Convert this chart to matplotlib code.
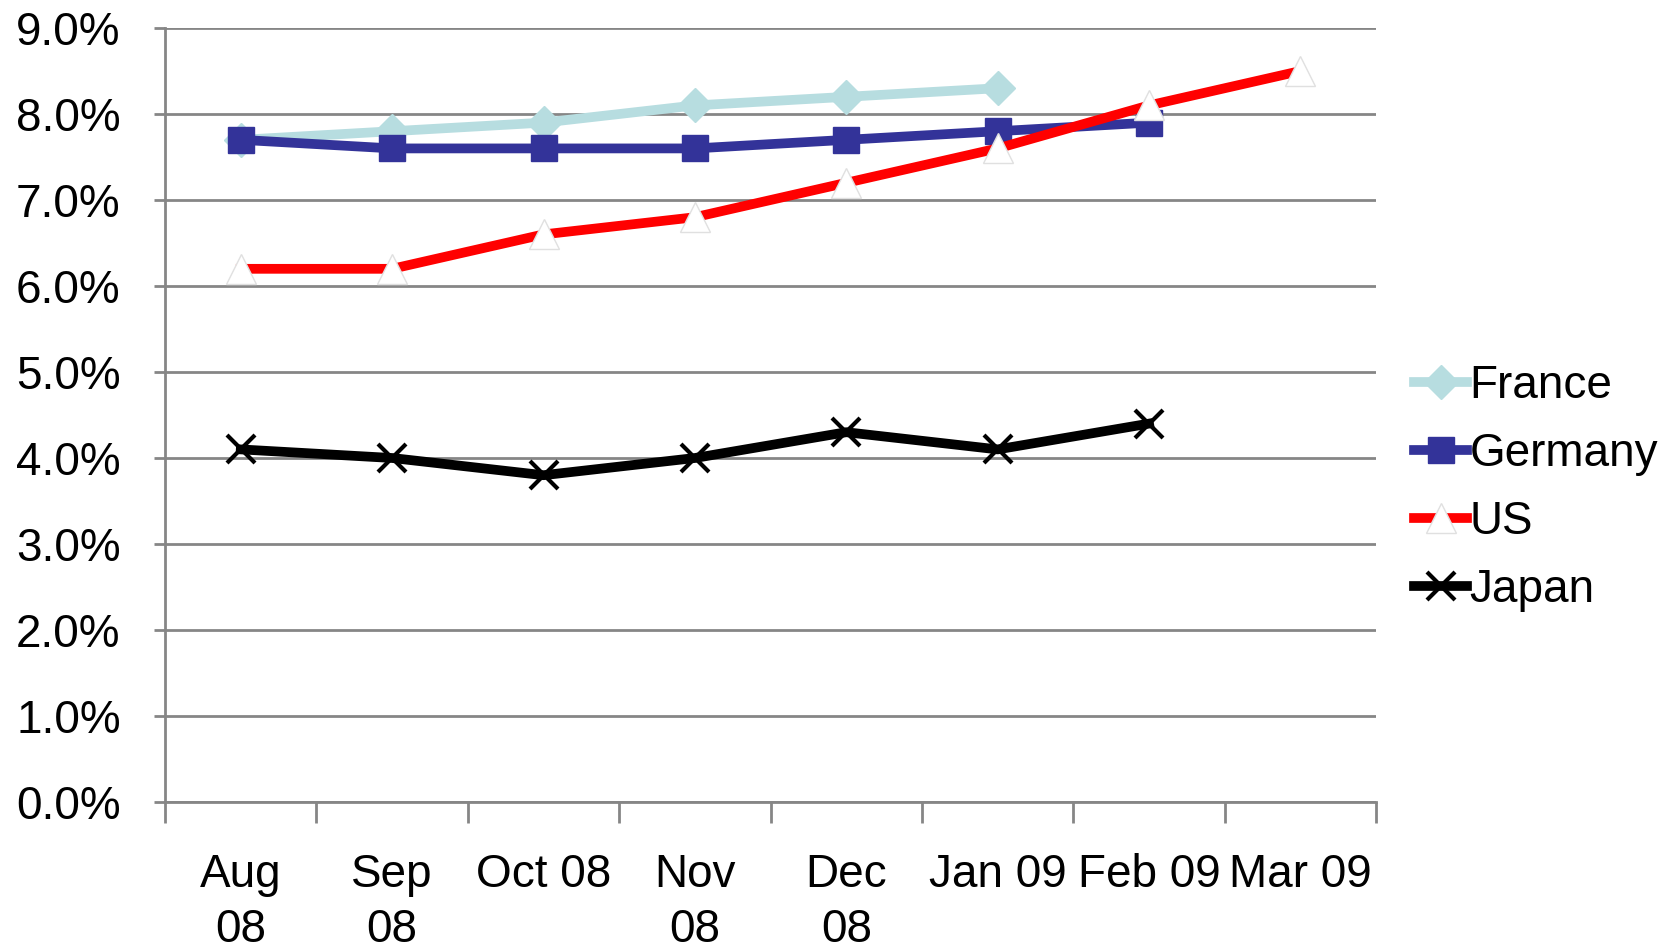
import numpy as np
import matplotlib
matplotlib.use('Agg')
import matplotlib.pyplot as plt

plt.rcParams['font.family'] = ['Liberation Sans', 'DejaVu Sans']

# ── Data ───────────────────────────────────────────────────
months = ['Aug\n08', 'Sep\n08', 'Oct 08', 'Nov\n08', 'Dec\n08',
          'Jan 09', 'Feb 09', 'Mar 09']
france  = [7.7, 7.8, 7.9, 8.1, 8.2, 8.3]
germany = [7.7, 7.6, 7.6, 7.6, 7.7, 7.8, 7.9]
us      = [6.2, 6.2, 6.6, 6.8, 7.2, 7.6, 8.1, 8.5]
japan   = [4.1, 4.0, 3.8, 4.0, 4.3, 4.1, 4.4]
y_ticks = np.arange(0, 10, 1)

# ── Plot ───────────────────────────────────────────────────
fig = plt.figure(figsize=(16.81, 9.5), dpi=100)
ax = fig.add_axes([0.0982, 0.1558, 0.7204, 0.8147])

x = np.arange(len(months))
ax.plot(x[:len(france)], france, color='#b7dde0', lw=7, marker='D', ms=17,
        mec='#b7dde0', label='France', zorder=3)
ax.plot(x[:len(germany)], germany, color='#333399', lw=7, marker='s', ms=19,
        mec='#333399', label='Germany', zorder=4)
ax.plot(x, us, color='#ff0000', lw=7, marker='^', ms=21, mfc='white',
        mec='#e0e0e0', mew=1, label='US', zorder=5)
ax.plot(x[:len(japan)], japan, color='black', lw=7, marker='x', ms=20,
        mew=3, label='Japan', zorder=6)

ax.set_xlim(-0.5, len(months) - 0.5)
ax.set_ylim(0, 9)
ax.set_yticks(y_ticks)
ax.set_yticklabels([f'{v:.1f}%' for v in y_ticks])
ax.set_xticks(x)
ax.set_xticklabels(months, linespacing=1.3)
ax.set_xticks(np.arange(-0.5, len(months)), minor=True)

ax.grid(axis='y', color='#868686', lw=2)
ax.set_axisbelow(True)
for s in ['top', 'right']:
    ax.spines[s].set_visible(False)
for s in ['left', 'bottom']:
    ax.spines[s].set_color('#868686')
    ax.spines[s].set_linewidth(2)

ax.tick_params(axis='y', labelsize=33, length=8, width=2, color='#868686', pad=24)
ax.tick_params(axis='x', which='major', labelsize=33, length=0, pad=37)
ax.tick_params(axis='x', which='minor', length=15, width=2, color='#868686')

fig.legend(loc='upper left', bbox_to_anchor=(0.8305, 0.636), frameon=False,
           fontsize=33, handlelength=1.15, handletextpad=0.05,
           labelspacing=0.52, borderaxespad=0)

plt.savefig('out.png', dpi=100)
